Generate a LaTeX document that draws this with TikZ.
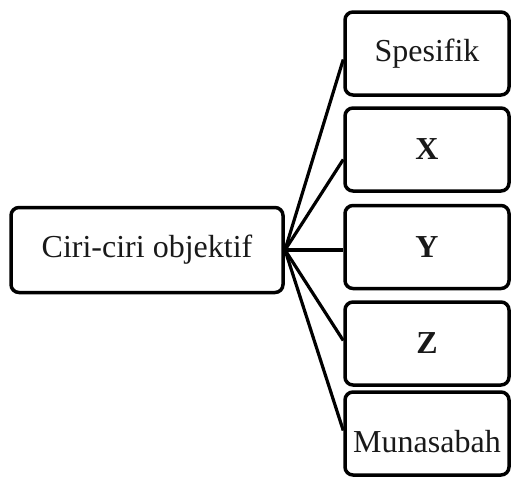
\documentclass[tikz,border=0pt]{standalone}
\usepackage{fontspec}
\setmainfont{Liberation Serif}
\begin{document}
\begin{tikzpicture}[x=1pt,y=-1pt,
  box/.style={draw=black,line width=3.5pt,rounded corners=8pt,inner sep=0pt,font=\fontsize{32}{36}\selectfont,text=black!90},
  rbox/.style={box,minimum width=164pt,minimum height=83pt},
  link/.style={draw=black,line width=3.2pt}]
\useasboundingbox (0,0) rectangle (511,479);
\node[box,minimum width=272pt,minimum height=85pt] (main) at (147,250) {Ciri-ciri objektif};
\node[rbox] (s) at (427,53.5) {Spesifik};
\node[rbox] (x) at (427,149.5) {\textbf{X}};
\node[rbox] (y) at (427,247) {\textbf{Y}};
\node[rbox] (z) at (427,343.5) {\textbf{Z}};
\node[rbox] (m) at (427,433.5) {\raisebox{-19pt}[0pt][0pt]{Munasabah}};
\coordinate (o) at (285,250);
\draw[link] (o) -- ([yshift=-6pt]s.west);
\draw[link] (o) -- ([yshift=-10pt]x.west);
\draw[link] (o) -- (y.west |- o);
\draw[link] (o) -- ([yshift=3pt]z.west);
\draw[link] (o) -- ([yshift=3pt]m.west);
\end{tikzpicture}
\end{document}
